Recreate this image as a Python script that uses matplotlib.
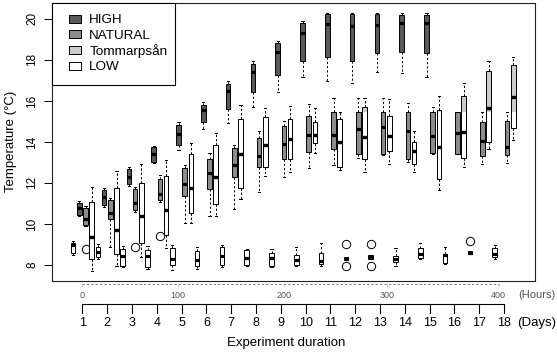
import matplotlib
matplotlib.use("Agg")
import matplotlib.pyplot as plt
from matplotlib.lines import Line2D
from matplotlib.patches import Rectangle

plt.rcParams['font.family'] = ['Liberation Sans', 'DejaVu Sans']

# ---------------- data ----------------
groups = ["HIGH", "NATURAL", "Tommarpsån", "LOW"]
days = list(range(1, 19))
day_labels = [str(d) for d in days]
hour_ticks = [0, 100, 200, 300, 400]
hour_tick_days = [1.0, 4.85, 9.14, 13.29, 17.78]   # where each hour mark falls on the day scale
y_ticks = [8, 10, 12, 14, 16, 18, 20]

# each row: (whisker low, Q1, median, Q3, whisker high)
high_days = list(range(1, 16))
high_stats = [
    (10.39, 10.44, 10.77, 11.04, 11.12),
    (10.84, 10.93, 11.30, 11.66, 11.74),
    (11.87, 11.95, 12.31, 12.67, 12.77),
    (12.96, 13.04, 13.40, 13.74, 13.82),
    (13.60, 13.85, 14.37, 14.83, 14.96),
    (14.62, 14.99, 15.56, 15.80, 15.96),
    (14.94, 15.61, 16.49, 16.83, 16.99),
    (15.72, 16.45, 17.43, 17.80, 17.97),
    (16.45, 17.27, 18.39, 18.81, 18.90),
    (17.16, 17.97, 19.30, 19.79, 19.90),
    (16.98, 18.13, 19.76, 20.24, 20.31),
    (16.86, 17.97, 19.63, 20.24, 20.31),
    (17.43, 18.33, 19.71, 20.24, 20.31),
    (17.38, 18.40, 19.79, 20.20, 20.31),
    (17.16, 18.33, 19.79, 20.20, 20.31),
]
high_fliers = [[] for _ in high_days]

natural_days = days
natural_stats = [
    (9.90, 9.95, 10.24, 10.77, 10.88),
    (8.89, 10.24, 10.52, 11.17, 11.28),
    (10.60, 10.68, 11.00, 11.69, 11.82),
    (11.06, 11.17, 11.46, 12.18, 12.40),
    (10.06, 11.37, 11.95, 12.72, 12.88),
    (10.39, 11.72, 12.47, 13.19, 13.45),
    (10.72, 12.28, 12.86, 13.69, 13.86),
    (11.58, 12.77, 13.33, 14.20, 14.55),
    (12.31, 13.16, 13.90, 14.78, 15.04),
    (12.72, 13.53, 14.34, 15.27, 15.84),
    (12.88, 13.66, 14.36, 15.46, 16.13),
    (13.20, 13.41, 14.62, 15.46, 16.13),
    (13.37, 13.41, 14.72, 15.46, 16.13),
    (13.04, 13.16, 14.55, 15.46, 15.92),
    (13.40, 13.48, 14.29, 15.46, 15.72),
    (13.41, 13.41, 14.42, 15.46, 15.46),
    (12.93, 13.32, 14.06, 14.99, 15.45),
    (12.96, 13.37, 13.77, 15.02, 15.45),
]
natural_fliers = [[8.77], [], [8.86], [9.40]] + [[] for _ in range(14)]

tomm_days = days
tomm_stats = [
    (7.72, 8.28, 9.38, 11.09, 11.82),
    (7.95, 8.54, 9.71, 11.77, 12.60),
    (8.41, 9.06, 10.40, 11.98, 12.93),
    (8.81, 9.46, 10.68, 12.34, 13.12),
    (10.06, 10.52, 11.74, 13.40, 13.97),
    (10.39, 10.96, 12.31, 13.84, 14.42),
    (11.20, 11.74, 13.40, 15.12, 15.80),
    (12.34, 12.77, 13.84, 15.20, 15.64),
    (12.55, 13.16, 14.16, 15.12, 15.77),
    (13.45, 13.97, 14.34, 14.99, 15.64),
    (12.63, 12.80, 14.01, 15.10, 15.48),
    (12.55, 13.16, 14.26, 15.69, 16.13),
    (12.91, 13.58, 14.31, 15.27, 16.08),
    (12.55, 12.91, 13.56, 14.01, 14.54),
    (11.66, 12.18, 13.74, 15.56, 16.26),
    (12.77, 13.20, 14.50, 16.26, 16.86),
    (13.64, 14.01, 15.64, 17.48, 17.97),
    (14.10, 14.70, 16.21, 17.76, 18.16),
]
tomm_fliers = [[] for _ in tomm_days]

low_days = days
low_stats = [
    (8.50, 8.57, 8.95, 9.05, 9.15),
    (8.30, 8.37, 8.65, 8.89, 9.00),
    (7.90, 7.97, 8.44, 8.76, 8.90),
    (7.80, 7.90, 8.44, 8.74, 8.90),
    (7.75, 8.00, 8.28, 8.81, 8.96),
    (7.79, 7.95, 8.24, 8.70, 8.89),
    (7.90, 7.98, 8.44, 8.89, 8.98),
    (7.95, 7.98, 8.33, 8.73, 8.80),
    (7.90, 7.95, 8.33, 8.57, 8.80),
    (7.95, 8.00, 8.25, 8.50, 8.86),
    (7.93, 8.03, 8.20, 8.57, 9.06),
    (8.24, 8.24, 8.30, 8.41, 8.41),
    (8.28, 8.28, 8.40, 8.49, 8.49),
    (7.93, 8.16, 8.30, 8.44, 8.81),
    (8.28, 8.36, 8.52, 8.81, 9.05),
    (8.04, 8.11, 8.50, 8.54, 8.88),
    (8.52, 8.52, 8.60, 8.68, 8.68),
    (8.30, 8.37, 8.55, 8.81, 8.98),
]
low_fliers = [[] for _ in range(11)] + [[9.00, 7.97], [9.00, 7.93]] + [[], [], [], [9.19], []]

colors = {"HIGH": "#595959", "NATURAL": "#8c8c8c", "Tommarpsån": "#cccccc", "LOW": "#ffffff"}
offsets = {"LOW": -0.375, "HIGH": -0.125, "NATURAL": 0.125, "Tommarpsån": 0.375}

# ---------------- figure ----------------
W, H = 557, 353
fig = plt.figure(figsize=(W / 100, H / 100), dpi=100)
px_left, px_right, px_top, px_bottom = 52.3, 535.0, 2.5, 280.7
ax = fig.add_axes([px_left / W, 1 - px_bottom / H, (px_right - px_left) / W, (px_bottom - px_top) / H])

xmin = 1 + (px_left - 82.4) / 24.8
xmax = 1 + (px_right - 82.4) / 24.8
ax.set_xlim(xmin, xmax)
ax.set_ylim(7.23, 20.80)


def make_stats(stats, fliers):
    out = []
    for (lo, q1, med, q3, hi), fl in zip(stats, fliers):
        out.append(dict(whislo=lo, q1=q1, med=med, q3=q3, whishi=hi, fliers=fl))
    return out


lw = 0.7
common = dict(widths=0.19, patch_artist=True, manage_ticks=False, capwidths=0.09,
              whiskerprops=dict(linestyle=(0, (2.2, 2.2)), linewidth=lw, color="black"),
              capprops=dict(linewidth=lw, color="black"),
              medianprops=dict(color="black", linewidth=2.3, solid_capstyle="butt"),
              flierprops=dict(marker="o", markerfacecolor="none", markeredgecolor="black",
                              markersize=6, markeredgewidth=0.7, linestyle="none"))

series = [
    ("LOW", low_days, low_stats, low_fliers),
    ("HIGH", high_days, high_stats, high_fliers),
    ("NATURAL", natural_days, natural_stats, natural_fliers),
    ("Tommarpsån", tomm_days, tomm_stats, tomm_fliers),
]
for name, dd, st, fl in series:
    pos = [d + offsets[name] for d in dd]
    ax.bxp(make_stats(st, fl), positions=pos,
           boxprops=dict(facecolor=colors[name], edgecolor="black", linewidth=lw), **common)

# white overlay on the lower part of the Tommarpsån boxes (as in the reference rendering)
clip = Rectangle((xmin, 7.23), xmax - xmin, 15.45 - 7.23, transform=ax.transData)
res = ax.bxp(make_stats(tomm_stats, tomm_fliers), positions=[d + offsets["Tommarpsån"] for d in tomm_days],
             boxprops=dict(facecolor="white", edgecolor="black", linewidth=lw), **common)
for b in res["boxes"]:
    b.set_clip_path(clip)

ax.set_xticks([])
ax.set_yticks(y_ticks)
ax.set_yticklabels([str(t) for t in y_ticks], rotation=90, va="center")
ax.tick_params(axis="y", direction="out", length=6, width=0.7, labelsize=8.5, pad=4)
for s in ax.spines.values():
    s.set_linewidth(0.8)
    s.set_color("#222222")

# legend
rect_marker = [(-1, -0.7), (1, -0.7), (1, 0.7), (-1, 0.7), (-1, -0.7)]
handles = [Line2D([], [], linestyle="none", marker=rect_marker, markersize=8.4,
                  markerfacecolor=colors[g], markeredgecolor="black", markeredgewidth=0.7) for g in groups]
leg_w = (175 - px_left) / (px_right - px_left)
leg = ax.legend(handles, groups, loc="upper left", bbox_to_anchor=(0, 1, leg_w, 0), mode="expand",
                borderaxespad=0, frameon=True, fancybox=False,
                edgecolor="black", framealpha=1, fontsize=9.7, handlelength=1.7, handletextpad=0.2,
                labelspacing=0.2, borderpad=0.85)
leg.get_frame().set_linewidth(0.8)

# bottom scales
bax = fig.add_axes([px_left / W, 0, (px_right - px_left) / W, (H - px_bottom) / H])
bax.set_xlim(xmin, xmax)
bax.set_ylim(H, px_bottom)
bax.axis("off")

y_hours = 284.0
bax.plot([hour_tick_days[0], hour_tick_days[-1]], [y_hours, y_hours], linestyle=(0, (2.5, 2)),
         color="#808080", lw=0.7, clip_on=False)
for hd, hl in zip(hour_tick_days, hour_ticks):
    bax.plot([hd, hd], [y_hours, y_hours + 3], color="#808080", lw=0.6, linestyle=(0, (1, 1)), clip_on=False)
    bax.text(hd, 295, str(hl), ha="center", va="center", fontsize=6.5, color="#555555")
bax.text(1 + (518 - 82.4) / 24.8, 295, "(Hours)", ha="left", va="center", fontsize=8, color="#555555")

y_days = 304.3
bax.plot([days[0], days[-1]], [y_days, y_days], color="black", lw=0.8, clip_on=False, solid_capstyle="butt")
for d, lab in zip(days, day_labels):
    bax.plot([d, d], [y_days, y_days + 8.4], color="black", lw=0.8, clip_on=False)
    bax.text(d, 323, lab, ha="center", va="center", fontsize=9)
bax.text(1 + (517 - 82.4) / 24.8, 323, "(Days)", ha="left", va="center", fontsize=9.5)

fig.text(286 / W, 1 - 343 / H, "Experiment duration", ha="center", va="center", fontsize=9.5)
fig.text(11 / W, 1 - 141.6 / H, "Temperature (°C)", ha="center", va="center", rotation=90, fontsize=9.5)

fig.savefig("out.png", dpi=100)
